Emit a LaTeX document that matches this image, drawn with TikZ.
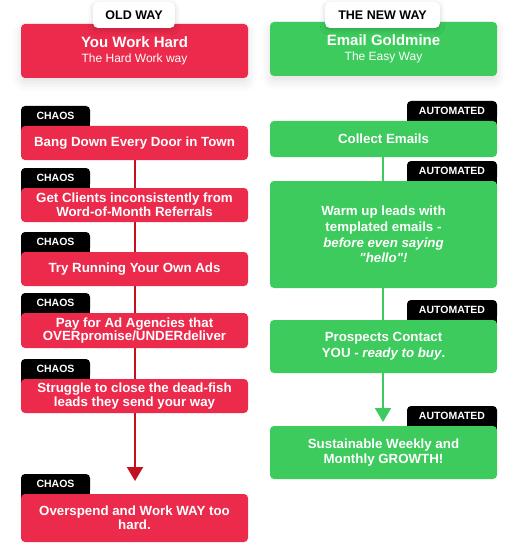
\documentclass[tikz,border=0pt]{standalone}
\usepackage{fontspec}
\setmainfont{Liberation Sans}[Ligatures=TeXOff]
\usetikzlibrary{arrows.meta,shadows.blur}
\definecolor{cred}{HTML}{EB2A4C}
\definecolor{cgreen}{HTML}{3CCB5C}
\definecolor{cline}{HTML}{C4111F}
\pgfdeclarelayer{bg}
\pgfsetlayers{bg,main}
\begin{document}
\begin{tikzpicture}[x=1pt,y=-1pt,
  box/.style={rounded corners=4pt, minimum width=227pt, inner sep=0pt, align=center,
    text=white, font=\bfseries\fontsize{13.3}{13.8}\selectfont},
  redbox/.style={box, fill=cred},
  greenbox/.style={box, fill=cgreen, font=\bfseries\fontsize{13.3}{15.7}\selectfont},
  headbox/.style={box, font=\fontsize{12}{15}\selectfont,
    blur shadow={shadow xshift=0pt, shadow yshift=-5pt, shadow blur radius=9pt, shadow opacity=12}},
  headtab/.style={fill=white, text=black, rounded corners=5pt, inner sep=0pt, minimum height=26pt,
    font=\bfseries\fontsize{12.5}{14}\selectfont,
    blur shadow={shadow xshift=0pt, shadow yshift=-2pt, shadow blur radius=5pt, shadow opacity=18}},
  tabnode/.style={fill=black, text=white, rounded corners=4pt, inner sep=0pt, minimum height=20pt,
    font=\bfseries\fontsize{10.5}{12}\selectfont},
  chaos/.style={tabnode, minimum width=69pt},
  auto/.style={tabnode, minimum width=90pt},
  redline/.style={cline, line width=2pt, -{Triangle[width=16pt,length=14pt]}},
  greenline/.style={cgreen, line width=2pt, -{Triangle[width=16pt,length=14pt]}}
]
\useasboundingbox (0,0) rectangle (529,559);

% ---------- headers ----------
\node[headbox, fill=cred, minimum height=54pt] (r0) at (134.5,51)
  {{\bfseries\fontsize{15}{15}\selectfont You Work Hard}\\The Hard Work way};
\node[headbox, fill=cgreen, minimum height=54pt] (g0) at (383.5,49)
  {{\bfseries\fontsize{15}{15}\selectfont Email Goldmine}\\The Easy Way};
\node[headtab, minimum width=82pt] (t0) at (134,15) {OLD WAY};
\node[headtab, minimum width=115pt] (u0) at (382.5,15) {THE NEW WAY};

% ---------- old way ----------
\node[chaos] (c1) at (55.5,116) {CHAOS};
\node[redbox, minimum height=34pt] (r1) at (134.5,143) {Bang Down Every Door in Town};
\node[chaos] (c2) at (55.5,178) {CHAOS};
\node[redbox, minimum height=34pt] (r2) at (134.5,205) {Get Clients inconsistently from\\Word-of-Month Referrals};
\node[chaos] (c3) at (55.5,242) {CHAOS};
\node[redbox, minimum height=34pt] (r3) at (134.5,269) {Try Running Your Own Ads};
\node[chaos] (c4) at (55.5,303) {CHAOS};
\node[redbox, minimum height=35pt] (r4) at (134.5,330.5) {Pay for Ad Agencies that\\OVERpromise/UNDERdeliver};
\node[chaos] (c5) at (55.5,369) {CHAOS};
\node[redbox, minimum height=34pt] (r5) at (134.5,396) {Struggle to close the dead-fish\\leads they send your way};
\node[chaos] (c6) at (55.5,484) {CHAOS};
\node[redbox, minimum height=48pt] (r6) at (134.5,518) {Overspend and Work WAY too\\hard.};

% ---------- new way ----------
\node[auto] (a1) at (452,111) {AUTOMATED};
\node[greenbox, minimum height=36pt] (g1) at (383.5,139) {Collect Emails};
\node[auto] (a2) at (452,171) {AUTOMATED};
\node[greenbox, minimum height=107pt] (g2) at (383.5,234.5)
  {Warm up leads with\\templated emails -\\\textit{before even saying}\\\textit{"hello"!}};
\node[auto] (a3) at (452,310) {AUTOMATED};
\node[greenbox, minimum height=53pt] (g3) at (383.5,346.5) {Prospects Contact\\YOU - \textit{ready to buy}.};
\node[auto] (a4) at (452,416) {AUTOMATED};
\node[greenbox, minimum height=53pt] (g4) at (383.5,452.5) {Sustainable Weekly and\\Monthly GROWTH!};

\coordinate (rend) at (135,481);
\coordinate (gend) at (383,422);

\begin{pgfonlayer}{bg}
  % square off the lower corners of the tabs
  \foreach \t in {c1,c2,c3,c4,c5,c6,a1,a2,a3,a4}
    \fill[black] (\t.west) rectangle ([yshift=-4pt]\t.south east);
  \draw[redline] (r1.south) -- (r1.south -| rend) -- (rend);
  \draw[greenline] (g1.south) -- (g1.south -| gend) -- (gend);
\end{pgfonlayer}
\end{tikzpicture}
\end{document}
